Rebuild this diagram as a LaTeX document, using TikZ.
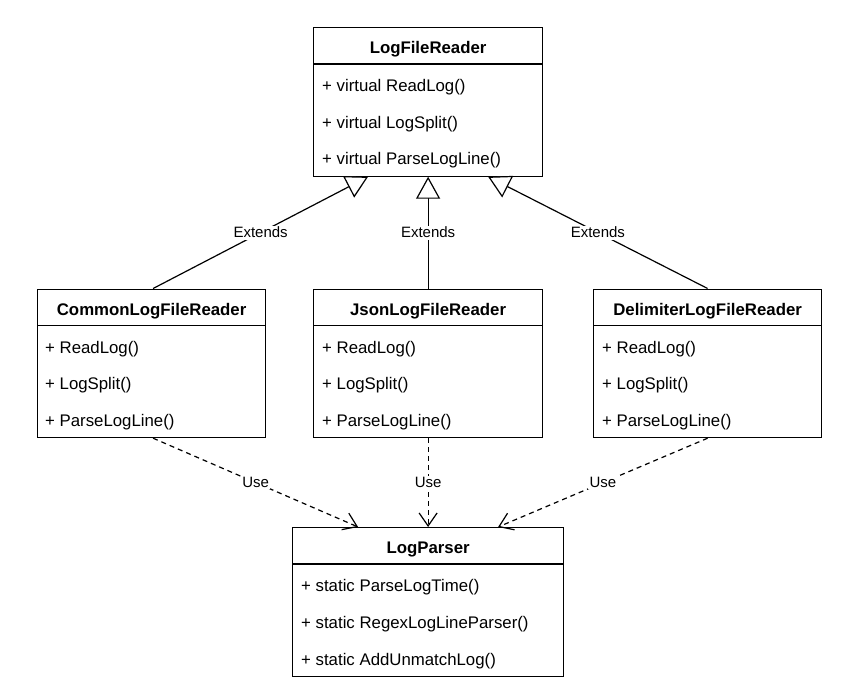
\documentclass[tikz,border=0pt]{standalone}
\usepackage{fontspec}
\setmainfont{Liberation Sans}
\usetikzlibrary{arrows.meta,calc}
\newcommand\umlcls[7]{% name, x, y, width, title, item1, item2, item3 (uses #7 as list)
}
\begin{document}
\begin{tikzpicture}[x=1pt,y=-1pt,
  box/.style={draw,line width=1.2pt,fill=white,anchor=north west,minimum height=148.5pt,inner sep=0pt},
  sep/.style={line width=1.2pt},
  ttl/.style={font=\fontsize{16.8}{20}\selectfont\bfseries,inner sep=0pt,text height=12pt,text depth=0pt},
  itm/.style={font=\fontsize{16.8}{20}\selectfont,anchor=west,inner sep=0pt,text height=12pt,text depth=0pt},
  lbl/.style={font=\fontsize{15}{18}\selectfont,fill=white,inner sep=1.5pt},
  ext/.style={line width=1.2pt,-{Triangle[open,length=22pt,width=24pt,fill=white]}},
  use/.style={line width=1.2pt,dash pattern=on 5pt off 4pt,-{Straight Barb[length=13pt,width=18pt]}}]
\useasboundingbox[fill=white] (0,0) rectangle (846,688);

% LogFileReader
\node[box,minimum width=229pt] (lfr) at (313,27) {};
\draw[sep] ($(lfr.north west)+(0,37)$) -- ($(lfr.north east)+(0,37)$);
\node[ttl] (lfrT) at ($(lfr.north)+(0,20.5)$) {LogFileReader};
\node[itm] (lfr1) at ($(lfr.north west)+(9,58.5)$) {+ virtual ReadLog()};
\node[itm] (lfr2) at ($(lfr.north west)+(9,95)$) {+ virtual LogSplit()};
\node[itm] (lfr3) at ($(lfr.north west)+(9,131.5)$) {+ virtual ParseLogLine()};

% CommonLogFileReader
\node[box,minimum width=228pt] (com) at (37,288.5) {};
\draw[sep] ($(com.north west)+(0,37)$) -- ($(com.north east)+(0,37)$);
\node[ttl] (comT) at ($(com.north)+(0,20.5)$) {CommonLogFileReader};
\node[itm] (com1) at ($(com.north west)+(8,58.5)$) {+ ReadLog()};
\node[itm] (com2) at ($(com.north west)+(8,95)$) {+ LogSplit()};
\node[itm] (com3) at ($(com.north west)+(8,131.5)$) {+ ParseLogLine()};

% JsonLogFileReader
\node[box,minimum width=229pt] (json) at (313,288.5) {};
\draw[sep] ($(json.north west)+(0,37)$) -- ($(json.north east)+(0,37)$);
\node[ttl] (jsonT) at ($(json.north)+(0,20.5)$) {JsonLogFileReader};
\node[itm] (json1) at ($(json.north west)+(9,58.5)$) {+ ReadLog()};
\node[itm] (json2) at ($(json.north west)+(9,95)$) {+ LogSplit()};
\node[itm] (json3) at ($(json.north west)+(9,131.5)$) {+ ParseLogLine()};

% DelimiterLogFileReader
\node[box,minimum width=228pt] (del) at (593,288.5) {};
\draw[sep] ($(del.north west)+(0,37)$) -- ($(del.north east)+(0,37)$);
\node[ttl] (delT) at ($(del.north)+(0,20.5)$) {DelimiterLogFileReader};
\node[itm] (del1) at ($(del.north west)+(9,58.5)$) {+ ReadLog()};
\node[itm] (del2) at ($(del.north west)+(9,95)$) {+ LogSplit()};
\node[itm] (del3) at ($(del.north west)+(9,131.5)$) {+ ParseLogLine()};

% LogParser
\node[box,minimum width=271pt] (lp) at (292,527) {};
\draw[sep] ($(lp.north west)+(0,37)$) -- ($(lp.north east)+(0,37)$);
\node[ttl] (lpT) at ($(lp.north)+(0,20.5)$) {LogParser};
\node[itm] (lp1) at ($(lp.north west)+(9,58.5)$) {+ static ParseLogTime()};
\node[itm] (lp2) at ($(lp.north west)+(9,95)$) {+ static RegexLogLineParser()};
\node[itm] (lp3) at ($(lp.north west)+(9,132.5)$) {+ static AddUnmatchLog()};

% Extends
\draw[ext] ($(com.north)+(1.5,0)$) -- node[lbl] {Extends} ($(lfr.south)+(-60,0)$);
\draw[ext] (json.north) -- node[lbl] {Extends} (lfr.south);
\draw[ext] (del.north) -- node[lbl] {Extends} ($(lfr.south)+(60,0)$);

% Use
\draw[use] ($(com.south)+(1.5,0)$) -- node[lbl] {Use} ($(lp.north)+(-70,0)$);
\draw[use] (json.south) -- node[lbl] {Use} (lp.north);
\draw[use] (del.south) -- node[lbl] {Use} ($(lp.north)+(70,0)$);
\end{tikzpicture}
\end{document}
